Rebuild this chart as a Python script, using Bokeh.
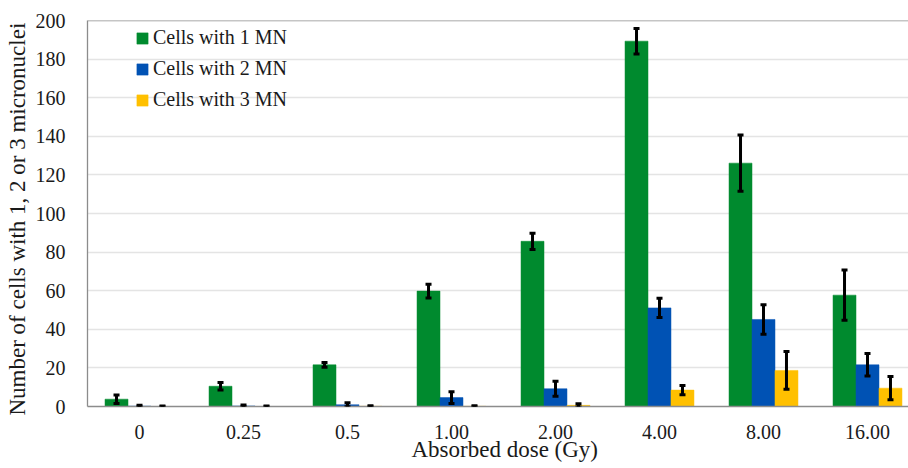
from bokeh.plotting import figure
from bokeh.models import (ColumnDataSource, Range1d, FixedTicker, Whisker, TeeHead,
                          Legend, LegendItem, Span, Title)
from bokeh.embed import file_html
from bokeh.resources import INLINE

doses = ["0", "0.25", "0.5", "1.00", "2.00", "4.00", "8.00", "16.00"]
mn1 = [3.8, 10.5, 21.6, 59.8, 85.6, 189.3, 126.1, 57.7]
mn2 = [0.2, 0.3, 0.9, 4.6, 9.2, 51.1, 45.1, 21.6]
mn3 = [0.0, 0.0, 0.1, 0.1, 0.6, 8.5, 18.7, 9.5]
err1 = [2.2, 2.0, 1.2, 3.6, 4.2, 6.6, 14.6, 13.0]
err2 = [0.4, 0.5, 1.0, 3.0, 3.9, 5.0, 7.6, 5.8]
err3 = [0.3, 0.3, 0.3, 0.3, 0.8, 2.4, 9.8, 6.0]
series_names = ["Cells with 1 MN", "Cells with 2 MN", "Cells with 3 MN"]
colors = ["#008A2E", "#0052B4", "#FFC000"]

FONT = "'Liberation Serif'"
BAR_W = 0.221
PX_PER_CAT = 104.0

left, right, top, bottom = 87, 0, 20, 62
W, H = 908, 468
frame_w = W - left - right
x_end = -0.5 + frame_w / PX_PER_CAT

p = figure(width=W, height=H, output_backend="svg", toolbar_location=None,
           x_range=Range1d(-0.5, x_end), y_range=Range1d(0, 200),
           min_border_left=left, min_border_right=right,
           min_border_top=top, min_border_bottom=bottom)
p.outline_line_color = None
p.xgrid.grid_line_color = None
p.ygrid.grid_line_color = "#E4E4E4"
p.ygrid.grid_line_width = 1.3

idx = list(range(len(doses)))
offsets = [-BAR_W, 0.0, BAR_W]
renderers = []
for vals, errs, off, col in zip([mn1, mn2, mn3], [err1, err2, err3], offsets, colors):
    xs = [i + off for i in idx]
    src = ColumnDataSource(dict(x=xs, top=vals,
                                upper=[v + e for v, e in zip(vals, errs)],
                                lower=[v - e for v, e in zip(vals, errs)]))
    r = p.vbar(x="x", top="top", width=BAR_W, source=src, fill_color=col,
               line_color=col, line_width=0.5)
    renderers.append(r)
    wh = Whisker(base="x", upper="upper", lower="lower", source=src,
                 line_color="black", line_width=3, level="overlay",
                 upper_head=TeeHead(size=6, line_width=3, line_color="black"),
                 lower_head=TeeHead(size=6, line_width=3, line_color="black"))
    p.add_layout(wh)

# top border
p.add_layout(Span(location=200, dimension="width", line_color="#8C8C8C", line_width=1.3))

p.xaxis.ticker = FixedTicker(ticks=idx)
p.xaxis.major_label_overrides = {i: d for i, d in zip(idx, doses)}
p.yaxis.ticker = FixedTicker(ticks=list(range(0, 201, 20)))
for ax in (p.xaxis, p.yaxis):
    ax.major_tick_line_color = None
    ax.minor_tick_line_color = None
    ax.axis_line_color = "#8C8C8C"
    ax.axis_line_width = 1.3
    ax.major_label_text_font = FONT
    ax.major_label_text_font_size = "20px"
    ax.major_label_text_color = "#1a1a1a"
p.xaxis.major_label_standoff = 12
p.yaxis.major_label_standoff = 16

p.add_layout(Title(text="Number of cells with 1, 2 or 3 micronuclei", align="left",
                   offset=-9, text_font=FONT, text_font_size="23px",
                   text_font_style="normal", text_color="#1a1a1a", standoff=5), "left")

p.add_layout(Title(text="Absorbed dose (Gy)", align="left", offset=324,
                   text_font=FONT, text_font_size="23px", text_font_style="normal",
                   text_color="#1a1a1a", standoff=-13), "below")

legend = Legend(items=[LegendItem(label=n, renderers=[r]) for n, r in zip(series_names, renderers)],
                location=(48, 295), padding=0, margin=0, spacing=8,
                glyph_width=14, glyph_height=14, label_standoff=4,
                label_text_font=FONT, label_text_font_size="20px",
                label_text_color="#1a1a1a",
                border_line_color=None, background_fill_alpha=0)
p.add_layout(legend)

open("out.html", "w").write(file_html(p, INLINE))
